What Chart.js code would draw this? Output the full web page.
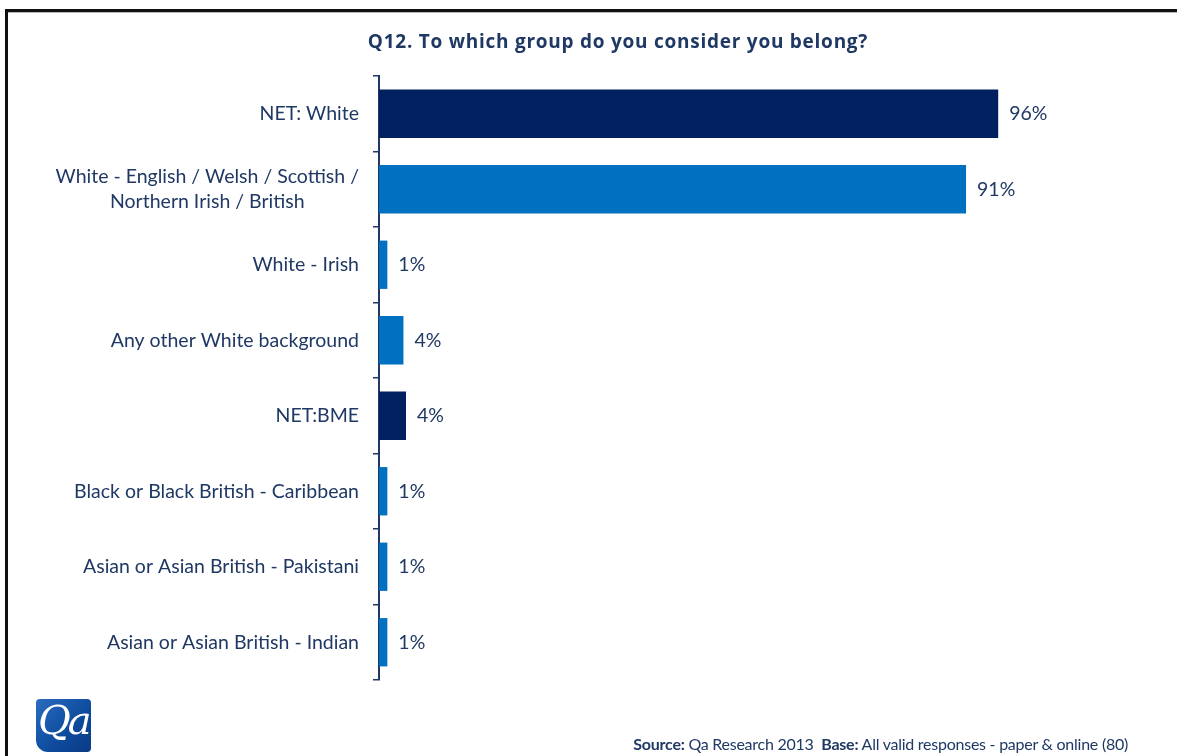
<!DOCTYPE html>
<html>
<head>
<meta charset="utf-8">
<script src="https://cdn.jsdelivr.net/npm/chart.js@4"></script>
<style>
  html, body { margin: 0; padding: 0; background: #fff; }
  body { width: 1177px; height: 756px; position: relative; overflow: hidden; font-family: Lato, "Open Sans", sans-serif; }
  #wrap { position: absolute; left: 0; top: 0; width: 1177px; height: 756px; }
  .frameTop { position: absolute; left: 5px; top: 9px; width: 1172px; height: 3px; background: #111; }
  .frameTop2 { position: absolute; left: 5px; top: 12px; width: 1172px; height: 1px; background: #bbb; }
  .frameLeft { position: absolute; left: 5px; top: 9px; width: 3px; height: 747px; background: #111; }
  .logo { position: absolute; left: 36px; top: 699px; width: 55px; height: 53px; border-radius: 4px 4px 4px 12px;
          background: linear-gradient(135deg, #2a6cc0 0%, #0d4a9c 60%, #0a3b86 100%); overflow: hidden; }
  .logo span { position: absolute; left: 2px; top: -2px; color: #fff; font-family: "DejaVu Serif", "Liberation Serif", serif;
               font-style: italic; font-size: 40px; letter-spacing: -3px; }
  .title { position: absolute; left: 0; width: 1236px; text-align: center; top: 28px; font-family: "Open Sans", Lato, sans-serif;
           font-weight: 700; font-size: 19px; color: #1F3864; white-space: nowrap; letter-spacing: 0.75px; line-height: 26px; }
  .source { position: absolute; right: 49px; top: 734px; font-size: 16px; color: #1F3864; white-space: nowrap; letter-spacing: -0.25px; }
  .source b { font-weight: 700; }
</style>
</head>
<body>
<div id="wrap"><canvas id="c" width="1177" height="756"></canvas></div>
<div class="frameTop"></div>
<div class="frameTop2"></div>
<div class="frameLeft"></div>
<div class="title" id="title"></div>
<div class="logo"><span>Qa</span></div>
<div class="source"><b>Source:</b> Qa Research 2013&nbsp;&nbsp;<b>Base:</b> All valid responses - paper &amp; online (80)</div>
<script>
// ---- data ----
const chartTitle = "Q12. To which group do you consider you belong?";
const categories = [
  "NET: White",
  ["White - English / Welsh / Scottish /", "Northern Irish / British"],
  "White - Irish",
  "Any other White background",
  "NET:BME",
  "Black or Black British - Caribbean",
  "Asian or Asian British - Pakistani",
  "Asian or Asian British - Indian"
];
const values = [96.3, 91.3, 1.3, 3.8, 4.2, 1.3, 1.3, 1.3];
const valueLabels = ["96%", "91%", "1%", "4%", "4%", "1%", "1%", "1%"];
const isNet = [true, false, false, false, true, false, false, false];
const axisMin = 0;
const axisMax = 100;

// ---- style ----
const NAVY = "#002060";
const BLUE = "#0070C0";
const TEXT = "#1F3864";
const FONT = "Lato, 'Open Sans', sans-serif";
const labelFontSize = 19.5;

document.getElementById('title').textContent = chartTitle;

const categoryLabelPlugin = {
  id: 'categoryLabels',
  afterDraw(chart) {
    const ctx = chart.ctx;
    const yScale = chart.scales.y;
    const right = chart.chartArea.left - 20;
    ctx.save();
    ctx.font = labelFontSize + "px " + FONT;
    ctx.fillStyle = TEXT;
    ctx.textBaseline = 'middle';
    ctx.textAlign = 'center';
    const lineH = 25;
    categories.forEach((lab, i) => {
      const lines = Array.isArray(lab) ? lab : [lab];
      const w = Math.max(...lines.map(l => ctx.measureText(l).width));
      const cx = right - w / 2;
      const cy = yScale.getPixelForValue(i);
      const y0 = cy - (lines.length - 1) * lineH / 2;
      lines.forEach((l, k) => ctx.fillText(l, cx, y0 + k * lineH));
    });
    ctx.restore();
  }
};

const valueLabelPlugin = {
  id: 'valueLabels',
  afterDatasetsDraw(chart) {
    const ctx = chart.ctx;
    const meta = chart.getDatasetMeta(0);
    ctx.save();
    ctx.font = labelFontSize + "px " + FONT;
    ctx.fillStyle = TEXT;
    ctx.textBaseline = 'middle';
    ctx.textAlign = 'left';
    meta.data.forEach((bar, i) => {
      ctx.fillText(valueLabels[i], bar.x + 11, bar.y);
    });
    ctx.restore();
  }
};

new Chart(document.getElementById('c'), {
  type: 'bar',
  data: {
    labels: categories,
    datasets: [{
      data: values,
      backgroundColor: isNet.map(n => n ? NAVY : BLUE),
      borderWidth: 0,
      barPercentage: 0.64,
      categoryPercentage: 1.0
    }]
  },
  options: {
    indexAxis: 'y',
    responsive: false,
    animation: false,
    devicePixelRatio: 1,
    layout: { padding: { left: 10, right: 155, top: 76, bottom: 76 } },
    plugins: {
      legend: { display: false },
      tooltip: { enabled: false },
      title: { display: false }
    },
    scales: {
      x: { display: false, min: axisMin, max: axisMax },
      y: {
        position: 'left',
        grid: { offset: true, drawOnChartArea: false, drawTicks: true, tickLength: 6, color: TEXT, lineWidth: 1.5 },
        border: { display: true, color: TEXT, width: 2 },
        ticks: { display: false },
        afterFit(scale) { scale.width = 369; }
      }
    }
  },
  plugins: [categoryLabelPlugin, valueLabelPlugin]
});
</script>
</body>
</html>
